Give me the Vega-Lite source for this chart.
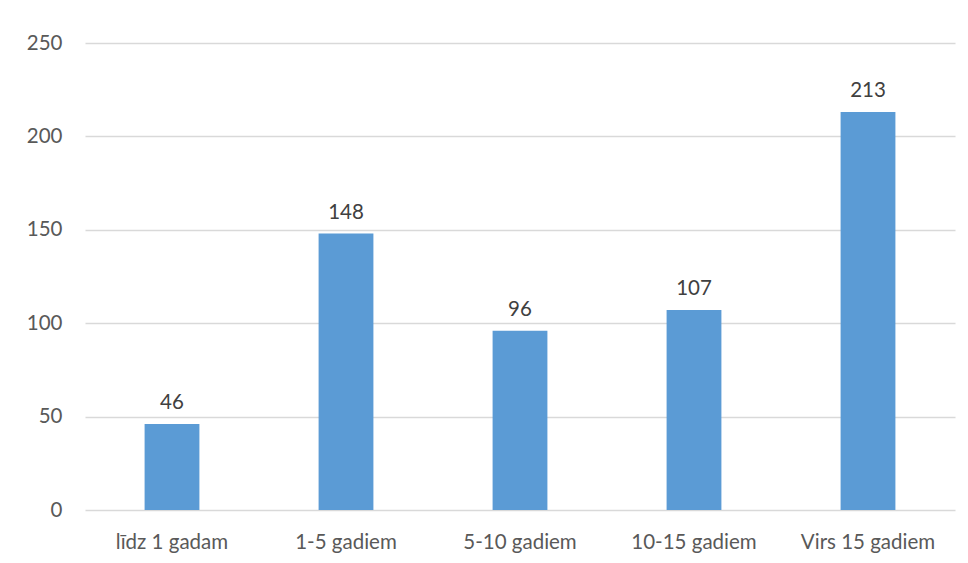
{
  "$schema": "https://vega.github.io/schema/vega-lite/v6.json",
  "width": 870,
  "height": 467,
  "autosize": {"type": "none"},
  "padding": {"left": 85, "top": 43, "right": 13, "bottom": 53},
  "background": "white",
  "data": {"values": [
    {"cat": "līdz 1 gadam", "v": 46},
    {"cat": "1-5 gadiem", "v": 148},
    {"cat": "5-10 gadiem", "v": 96},
    {"cat": "10-15 gadiem", "v": 107},
    {"cat": "Virs 15 gadiem", "v": 213}
  ]},
  "config": {
    "view": {"stroke": null},
    "font": "Lato",
    "axis": {"labelFont": "Lato", "labelColor": "#595959", "labelFontSize": 20.5}
  },
  "encoding": {
    "x": {"field": "cat", "type": "nominal", "sort": null,
      "scale": {"paddingInner": 0.685, "paddingOuter": 0.3425},
      "axis": {"title": null, "labelAngle": 0, "ticks": false, "domain": false, "labelPadding": 32, "grid": false, "labelBaseline": "middle"}},
    "y": {"field": "v", "type": "quantitative",
      "scale": {"domain": [0, 250], "nice": false},
      "axis": {"title": null, "values": [0, 50, 100, 150, 200, 250], "ticks": false, "domain": false, "labelPadding": 23, "gridColor": "#d9d9d9", "gridWidth": 1.3}}
  },
  "layer": [
    {"mark": {"type": "bar", "color": "#5B9BD5"}},
    {"mark": {"type": "text", "dy": -21, "fontSize": 20.5, "color": "#404040", "font": "Lato"},
     "encoding": {"text": {"field": "v", "type": "quantitative"}}}
  ]
}
